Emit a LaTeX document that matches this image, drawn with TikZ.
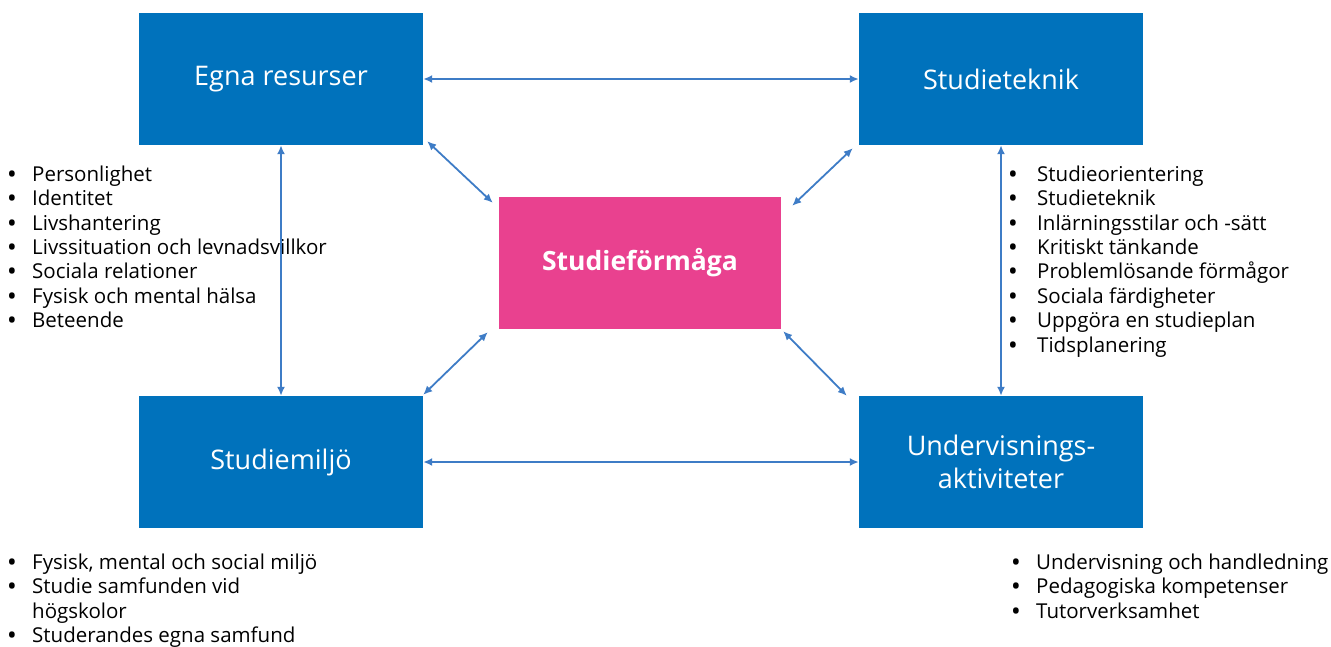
\documentclass[tikz,border=0pt]{standalone}
\usepackage{fontspec}
\setmainfont{Open Sans}
\usetikzlibrary{arrows.meta}

\definecolor{boxblue}{RGB}{0,114,188}
\definecolor{boxpink}{RGB}{233,65,143}
\definecolor{linkblue}{RGB}{62,124,198}

\begin{document}
\begin{tikzpicture}[x=1pt,y=-1pt,
  area/.style={rectangle,fill=boxblue,text=white,minimum width=284pt,minimum height=132pt,inner sep=0pt,align=center,font=\fontsize{27}{33}\selectfont},
  core/.style={rectangle,fill=boxpink,text=white,minimum width=282pt,minimum height=132pt,inner sep=0pt,font=\fontsize{26.5}{30}\selectfont\bfseries},
  link/.style={{Latex[length=9pt,width=8pt]}-{Latex[length=9pt,width=8pt]},draw=linkblue,line width=1.8pt},
  items/.style={anchor=north west,inner sep=0pt,font=\fontsize{20.5}{24.4}\selectfont}]
\useasboundingbox (0,0) rectangle (1331,646);

% the four areas and the core
\node at ( 281,  79) (egna)    [area] {Egna resurser};
\node at (1001,  79) (teknik)  [area] {Studieteknik};
\node at ( 281, 462) (miljo)   [area] {Studiemiljö};
\node at (1001, 462) (underv)  [area] {Undervisnings-\\aktiviteter};
\node at ( 640, 263) (formaga) [core] {Studieförmåga};

% bullet lists
\node at (8, 164) (egnalist) [items] {\begin{tabular}{@{}p{24pt}@{}l@{}}
\textbf{•} & Personlighet\\
\textbf{•} & Identitet\\
\textbf{•} & Livshantering\\
\textbf{•} & Livssituation och levnadsvillkor\\
\textbf{•} & Sociala relationer\\
\textbf{•} & Fysisk och mental hälsa\\
\textbf{•} & Beteende
\end{tabular}};
\node at (1009, 164) (tekniklist) [items] {\begin{tabular}{@{}p{28pt}@{}l@{}}
\textbf{•} & Studieorientering\\
\textbf{•} & Studieteknik\\
\textbf{•} & Inlärningsstilar och -sätt\\
\textbf{•} & Kritiskt tänkande\\
\textbf{•} & Problemlösande förmågor\\
\textbf{•} & Sociala färdigheter\\
\textbf{•} & Uppgöra en studieplan\\
\textbf{•} & Tidsplanering
\end{tabular}};
\node at (8, 552) (miljolist) [items] {\begin{tabular}{@{}p{24pt}@{}l@{}}
\textbf{•} & Fysisk, mental och social miljö\\
\textbf{•} & Studie samfunden vid\\
  & högskolor\\
\textbf{•} & Studerandes egna samfund
\end{tabular}};
\node at (1012, 552) (undervlist) [items] {\begin{tabular}{@{}p{24pt}@{}l@{}}
\textbf{•} & Undervisning och handledning\\
\textbf{•} & Pedagogiska kompetenser\\
\textbf{•} & Tutorverksamhet
\end{tabular}};

% links
\draw [link] (egna.east) -- (teknik.west);
\draw [link] (miljo.east) -- (underv.west);
\draw [link] (egna.south) -- (miljo.north);
\draw [link] (teknik.south) -- (underv.north);
\draw [link] ([xshift=4pt,yshift=4pt]egna.south east) -- ([xshift=-6pt,yshift=-6pt]formaga.north west);
\draw [link] ([xshift=-6pt,yshift=-3pt]teknik.south west) -- ([xshift=11pt,yshift=-9pt]formaga.north east);
\draw [link] ([xshift=-11pt,yshift=-3pt]formaga.south west) -- ([yshift=1pt]miljo.north east);
\draw [link] ([xshift=2pt,yshift=-2pt]formaga.south east) -- ([xshift=-12pt]underv.north west);
\end{tikzpicture}
\end{document}
